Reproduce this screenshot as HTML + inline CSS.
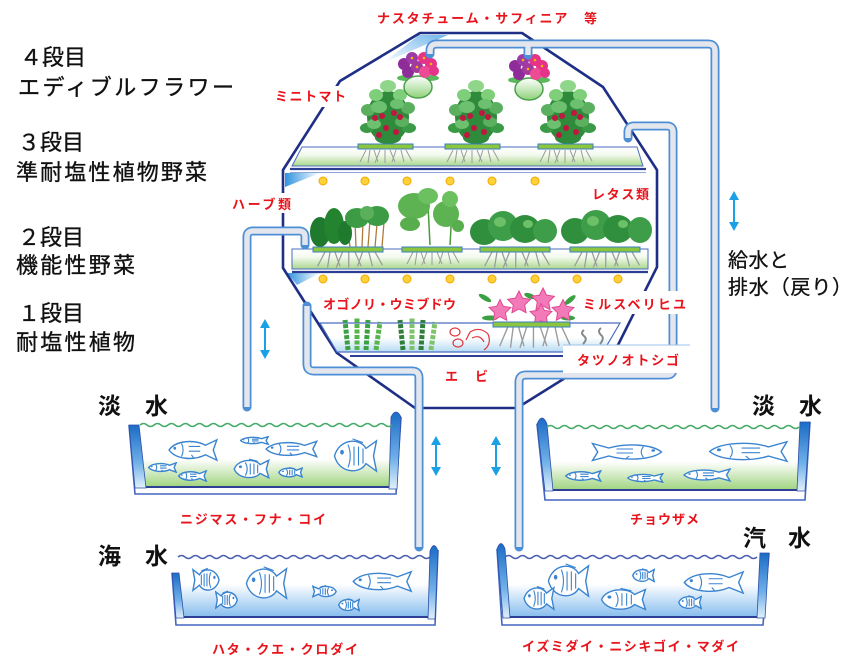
<!DOCTYPE html>
<html><head><meta charset="utf-8">
<style>
html,body{margin:0;padding:0;background:#fff;}
svg{display:block;}
.jp{font-family:"Liberation Sans","Noto Sans CJK JP",sans-serif;}
.blk{fill:#111;font-size:22px;stroke:#111;stroke-width:0.35px;}
.rd{fill:#e8131b;font-size:13px;font-weight:bold;}
.tk{fill:#111;font-size:23px;font-weight:bold;}
</style></head><body>
<svg width="868" height="670" viewBox="0 0 868 670" xmlns="http://www.w3.org/2000/svg" class="jp">
<defs>
 <linearGradient id="gGreen" x1="0" y1="0" x2="0" y2="1"><stop offset="0" stop-color="#ffffff"/><stop offset="0.4" stop-color="#f4faef"/><stop offset="1" stop-color="#a9d78c"/></linearGradient>
 <linearGradient id="gLB" x1="0" y1="0" x2="0" y2="1"><stop offset="0" stop-color="#ffffff"/><stop offset="0.5" stop-color="#ffffff"/><stop offset="1" stop-color="#b7dbf4"/></linearGradient>
 <linearGradient id="tankG" x1="0" y1="0" x2="0" y2="1"><stop offset="0" stop-color="#ffffff"/><stop offset="0.55" stop-color="#ffffff"/><stop offset="1" stop-color="#9fd47f"/></linearGradient>
 <linearGradient id="tankB" x1="0" y1="0" x2="0" y2="1"><stop offset="0" stop-color="#ffffff"/><stop offset="0.45" stop-color="#ffffff"/><stop offset="1" stop-color="#86bdee"/></linearGradient>
 <linearGradient id="wall" x1="0" y1="0" x2="0" y2="1"><stop offset="0" stop-color="#1b6bc6"/><stop offset="0.6" stop-color="#6fb0e8"/><stop offset="1" stop-color="#e2f0fb"/></linearGradient>
 <linearGradient id="gBall" x1="0" y1="0" x2="0" y2="1"><stop offset="0" stop-color="#ffffff"/><stop offset="1" stop-color="#8fd27a"/></linearGradient>
 <linearGradient id="gLight" x1="0" y1="0" x2="1" y2="0"><stop offset="0" stop-color="#2f93de"/><stop offset="1" stop-color="#ffffff"/></linearGradient>
 <linearGradient id="gRoof" x1="1" y1="0" x2="0" y2="1"><stop offset="0" stop-color="#6fb5ea"/><stop offset="1" stop-color="#ffffff"/></linearGradient>

 <symbol id="fishL" viewBox="0 0 100 40" preserveAspectRatio="none">
  <path d="M2,20 C15,4 50,2 72,12 L94,3 L87,20 L94,37 L72,28 C50,38 15,36 2,20 Z" fill="#fff" stroke="#3a84d0" stroke-width="1.4" vector-effect="non-scaling-stroke"/>
  <circle cx="13" cy="17" r="2.5" fill="#3a84d0"/>
  <path d="M26,9 Q32,20 26,31 M40,14 L62,14 M40,22 L62,22 M45,28 L50,34" fill="none" stroke="#3a84d0" stroke-width="1.1" vector-effect="non-scaling-stroke"/>
 </symbol>
 <symbol id="fishR" viewBox="0 0 100 40" preserveAspectRatio="none">
  <g transform="translate(100,0) scale(-1,1)">
  <path d="M2,20 C15,4 50,2 72,12 L94,3 L87,20 L94,37 L72,28 C50,38 15,36 2,20 Z" fill="#fff" stroke="#3a84d0" stroke-width="1.4" vector-effect="non-scaling-stroke"/>
  <circle cx="13" cy="17" r="2.5" fill="#3a84d0"/>
  <path d="M26,9 Q32,20 26,31 M40,14 L62,14 M40,22 L62,22 M45,28 L50,34" fill="none" stroke="#3a84d0" stroke-width="1.1" vector-effect="non-scaling-stroke"/>
  </g>
 </symbol>
 <symbol id="roundL" viewBox="0 0 60 40" preserveAspectRatio="none">
  <path d="M2,20 C8,2 35,0 44,12 L58,4 L54,20 L58,36 L44,28 C35,40 8,38 2,20 Z" fill="#fff" stroke="#3a84d0" stroke-width="1.4" vector-effect="non-scaling-stroke"/>
  <circle cx="12" cy="16" r="2.5" fill="#3a84d0"/>
  <path d="M20,8 Q26,20 20,32 M28,10 L28,30 M34,10 L34,30 M40,12 L40,28 M26,2 L40,6" fill="none" stroke="#3a84d0" stroke-width="1.1" vector-effect="non-scaling-stroke"/>
 </symbol>
 <symbol id="roundR" viewBox="0 0 60 40" preserveAspectRatio="none">
  <g transform="translate(60,0) scale(-1,1)">
  <path d="M2,20 C8,2 35,0 44,12 L58,4 L54,20 L58,36 L44,28 C35,40 8,38 2,20 Z" fill="#fff" stroke="#3a84d0" stroke-width="1.4" vector-effect="non-scaling-stroke"/>
  <circle cx="12" cy="16" r="2.5" fill="#3a84d0"/>
  <path d="M20,8 Q26,20 20,32 M28,10 L28,30 M34,10 L34,30 M40,12 L40,28 M26,2 L40,6" fill="none" stroke="#3a84d0" stroke-width="1.1" vector-effect="non-scaling-stroke"/>
  </g>
 </symbol>
 <g id="roots"><path d="M8,0 l-6,12 M12,0 l-2,13 M16,0 l4,12 M22,0 l-5,13 M27,0 l0,13 M32,0 l5,12 M38,0 l-4,12 M43,0 l3,12 M48,0 l6,11" stroke="#9b9b9b" stroke-width="1" fill="none"/></g>
 <g id="tomato">
  <ellipse cx="26" cy="37" rx="21" ry="26" fill="#2f8a3c"/>
  <ellipse cx="6" cy="30" rx="7" ry="6" fill="#5bb060"/>
  <ellipse cx="46" cy="28" rx="7" ry="6" fill="#5bb060"/>
  <ellipse cx="5" cy="48" rx="7" ry="5" fill="#3a9a46"/>
  <ellipse cx="47" cy="48" rx="7" ry="5" fill="#3a9a46"/>
  <ellipse cx="14" cy="15" rx="7" ry="6" fill="#7fcf7a"/>
  <ellipse cx="38" cy="15" rx="7" ry="6" fill="#7fcf7a"/>
  <ellipse cx="26" cy="6" rx="8" ry="6" fill="#8fd68a"/>
  <ellipse cx="17" cy="27" rx="8" ry="6" fill="#6cc070"/>
  <ellipse cx="35" cy="24" rx="7" ry="5" fill="#6cc070"/>
  <ellipse cx="12" cy="44" rx="7" ry="5" fill="#6cc070"/>
  <ellipse cx="40" cy="42" rx="7" ry="5" fill="#5bb060"/>
  <ellipse cx="26" cy="58" rx="13" ry="6" fill="#2f8a3c"/>
  <circle cx="20" cy="36" r="3" fill="#c0163f"/><circle cx="32" cy="33" r="3" fill="#c0163f"/>
  <circle cx="13" cy="38" r="3" fill="#c0163f"/><circle cx="38" cy="37" r="3" fill="#c0163f"/>
  <circle cx="24" cy="48" r="3" fill="#c0163f"/><circle cx="34" cy="52" r="3" fill="#c0163f"/>
  <circle cx="17" cy="55" r="3" fill="#c0163f"/>
 </g>
 <g id="basket">
  <ellipse cx="10" cy="28" rx="9" ry="3" fill="#5cb85c"/>
  <ellipse cx="34" cy="28" rx="9" ry="3" fill="#5cb85c"/>
  <ellipse cx="22" cy="37" rx="14" ry="11" fill="url(#gBall)" stroke="#4aa04a" stroke-width="1.5"/>
  <circle cx="8" cy="14" r="6" fill="#8e2c9a"/><circle cx="16" cy="8" r="6" fill="#9c3aa8"/>
  <circle cx="12" cy="22" r="6" fill="#8e2c9a"/><circle cx="21" cy="17" r="6" fill="#a33aa0"/>
  <circle cx="28" cy="8" r="6" fill="#e6338a"/><circle cx="35" cy="14" r="6" fill="#e6338a"/>
  <circle cx="29" cy="22" r="6" fill="#ee4b95"/><circle cx="38" cy="21" r="5" fill="#e6338a"/>
  <circle cx="16" cy="8" r="1.3" fill="#f5b400"/><circle cx="28" cy="8" r="1.3" fill="#f5b400"/>
  <circle cx="21" cy="17" r="1.3" fill="#f5b400"/><circle cx="35" cy="14" r="1.3" fill="#f5b400"/>
 </g>
 <polygon id="star" points="0,-10 2.94,-4.05 9.51,-3.09 4.76,1.55 5.88,8.09 0,5 -5.88,8.09 -4.76,1.55 -9.51,-3.09 -2.94,-4.05" fill="#f27ab8" stroke="#e0448f" stroke-width="0.8"/>
</defs>

<!-- roof light -->
<polygon points="419,35 448,35 383,63" fill="url(#gRoof)"/>
<polygon points="285,173 320,173 285,187" fill="url(#gLight)"/>
<polygon points="287,273 320,273 297,285" fill="url(#gLight)"/>

<!-- housing -->
<path d="M420,33 L522,33 L603,87 L657,170 L657,267 L618,345 L517,408 L415,408 L337,353 L283,268 L283,170 L340,81 Z" fill="none" stroke="#1f2f86" stroke-width="2.6" stroke-linejoin="round"/>

<!-- shelf 3 -->
<polygon points="302,147 637,147 643,166 292,166" fill="url(#gGreen)" stroke="#4a6cc0" stroke-width="1"/>
<line x1="290" y1="169" x2="646" y2="169" stroke="#2c3d94" stroke-width="2.2"/>
<line x1="290" y1="172.5" x2="646" y2="172.5" stroke="#8ea3d8" stroke-width="1"/>
<!-- shelf 2 -->
<rect x="292" y="249" width="356" height="20" fill="url(#gGreen)" stroke="#4a6cc0" stroke-width="1"/>
<line x1="292" y1="272" x2="648" y2="272" stroke="#2c3d94" stroke-width="2.2"/>
<!-- shelf 1 -->
<polygon points="320,323 620,323 603,352 337,352" fill="url(#gLB)" stroke="#4a6cc0" stroke-width="1.2"/>
<line x1="350" y1="356" x2="592" y2="356" stroke="#2c3d94" stroke-width="2"/>

<!-- lamps -->
<g fill="#ffd23a" stroke="#f0a800" stroke-width="1">
<circle cx="323" cy="181" r="4"/><circle cx="365" cy="181" r="4"/><circle cx="407" cy="181" r="4"/><circle cx="450" cy="181" r="4"/><circle cx="492" cy="181" r="4"/><circle cx="535" cy="181" r="4"/>
<circle cx="323" cy="279" r="4"/><circle cx="365" cy="279" r="4"/><circle cx="407" cy="279" r="4"/><circle cx="450" cy="279" r="4"/><circle cx="492" cy="279" r="4"/><circle cx="535" cy="279" r="4"/><circle cx="577" cy="279" r="4"/><circle cx="618" cy="279" r="4"/>
</g>

<!-- shelf 3 plants -->
<use href="#roots" transform="translate(358,150)"/>
<use href="#roots" transform="translate(445,150)"/>
<use href="#roots" transform="translate(538,150)"/>
<use href="#tomato" transform="translate(362,80)"/>
<use href="#tomato" transform="translate(450,80)"/>
<use href="#tomato" transform="translate(542,80)"/>
<g fill="#8cc63f" stroke="#3a7fc0" stroke-width="1">
<rect x="358" y="144" width="55" height="5"/><rect x="445" y="144" width="55" height="5"/><rect x="538" y="144" width="55" height="5"/>
</g>
<use href="#basket" transform="translate(396,50)"/>
<use href="#basket" transform="translate(507,52)"/>

<!-- shelf 2 plants -->
<use href="#roots" transform="translate(315,252) scale(1.25,1.2)"/>
<use href="#roots" transform="translate(405,252) scale(1.0,1.0)"/>
<use href="#roots" transform="translate(482,252) scale(1.25,1.2)"/>
<use href="#roots" transform="translate(572,252) scale(1.25,1.2)"/>
<g>
 <path d="M350,247 L347,222 M356,247 L355,220 M362,247 L363,222 M368,247 L370,220 M375,247 L377,224 M382,247 L384,222" stroke="#b07a3a" stroke-width="1.3"/>
 <ellipse cx="320" cy="232" rx="10" ry="15" fill="#1f7a2e"/>
 <ellipse cx="334" cy="226" rx="10" ry="18" fill="#23832f"/>
 <ellipse cx="345" cy="233" rx="7" ry="12" fill="#1f7a2e"/>
 <ellipse cx="357" cy="218" rx="12" ry="10" fill="#3d9b46"/>
 <ellipse cx="377" cy="216" rx="12" ry="10" fill="#3d9b46"/>
 <ellipse cx="367" cy="213" rx="7" ry="7" fill="#5ab05a"/>
 <path d="M430,245 L428,205 M450,245 L452,210" stroke="#4a9a3a" stroke-width="1.5"/>
 <ellipse cx="414" cy="206" rx="16" ry="13" fill="#5db352"/>
 <ellipse cx="428" cy="196" rx="10" ry="8" fill="#6cc060"/>
 <ellipse cx="410" cy="224" rx="10" ry="7" fill="#58ad4d"/>
 <ellipse cx="446" cy="214" rx="13" ry="13" fill="#5db352"/>
 <ellipse cx="450" cy="199" rx="8" ry="8" fill="#6cc060"/>
 <ellipse cx="458" cy="226" rx="6" ry="6" fill="#58ad4d"/>
 <ellipse cx="484" cy="232" rx="14" ry="13" fill="#2f8f3c"/>
 <ellipse cx="503" cy="226" rx="15" ry="15" fill="#3e9d48"/>
 <ellipse cx="525" cy="229" rx="15" ry="14" fill="#2f8f3c"/>
 <ellipse cx="545" cy="231" rx="12" ry="12" fill="#3e9d48"/>
 <ellipse cx="575" cy="231" rx="14" ry="13" fill="#2f8f3c"/>
 <ellipse cx="596" cy="225" rx="15" ry="15" fill="#3e9d48"/>
 <ellipse cx="618" cy="229" rx="15" ry="14" fill="#2f8f3c"/>
 <ellipse cx="640" cy="230" rx="12" ry="13" fill="#3e9d48"/>
 <ellipse cx="500" cy="222" rx="6" ry="5" fill="#6cc067"/>
 <ellipse cx="593" cy="221" rx="6" ry="5" fill="#6cc067"/>
 <ellipse cx="623" cy="224" rx="5" ry="4" fill="#6cc067"/>
 <ellipse cx="528" cy="224" rx="5" ry="4" fill="#6cc067"/>
</g>
<g fill="#8cc63f" stroke="#3a7fc0" stroke-width="1">
<rect x="313" y="247" width="70" height="5"/><rect x="402" y="247" width="60" height="5"/><rect x="480" y="247" width="70" height="5"/><rect x="570" y="247" width="70" height="5"/>
</g>

<!-- shelf 1 contents -->
<g fill="none" stroke-width="5" stroke-dasharray="4 1.5">
 <path d="M348,350 L345,320" stroke="#3aa043"/><path d="M357,350 L357,318" stroke="#56b44a"/>
 <path d="M366,350 L368,320" stroke="#3aa043"/><path d="M376,350 L380,322" stroke="#56b44a"/>
 <path d="M403,350 L400,320" stroke="#2f7f3a"/><path d="M412,350 L412,318" stroke="#7cc36a"/>
 <path d="M421,350 L423,320" stroke="#2f7f3a"/><path d="M431,350 L435,322" stroke="#7cc36a"/>
</g>
<g fill="none" stroke="#e0363e" stroke-width="1.2">
 <ellipse cx="455" cy="332" rx="5" ry="4"/><ellipse cx="458" cy="343" rx="5" ry="4"/>
 <path d="M470,332 Q480,326 488,334 Q492,344 484,350 M472,338 Q480,334 484,342 M470,332 L466,340"/>
</g>
<use href="#roots" transform="translate(497,327) scale(1.35,1.6)"/>
<g fill="#3aa043">
 <ellipse cx="485" cy="298" rx="7" ry="2.5" transform="rotate(30 485 298)"/>
 <ellipse cx="490" cy="318" rx="8" ry="2.5"/>
 <ellipse cx="570" cy="300" rx="7" ry="2.5" transform="rotate(-40 570 300)"/>
 <ellipse cx="568" cy="318" rx="7" ry="2.5"/>
 <ellipse cx="530" cy="296" rx="6" ry="2.5" transform="rotate(20 530 296)"/>
</g>
<use href="#star" transform="translate(500,311) scale(1.15)"/>
<use href="#star" transform="translate(519,303) scale(1.2)"/>
<use href="#star" transform="translate(543,300) scale(1.2)"/>
<use href="#star" transform="translate(541,315) scale(1.15)"/>
<use href="#star" transform="translate(563,311) scale(1.15)"/>
<rect x="493" y="322" width="77" height="5" fill="#8cc63f" stroke="#3a7fc0" stroke-width="1"/>
<g fill="none" stroke="#888" stroke-width="2">
 <path d="M584,330 q-4,3 0,6 q4,3 -1,8"/><path d="M601,328 q-4,3 0,7 q4,3 -1,9"/>
</g>

<!-- pipes -->
<g fill="none" stroke-linejoin="round">
 <g stroke="#4d8fd6" stroke-width="9" stroke-linecap="round">
  <path d="M430,54 V51 Q430,44 437,44 H708 Q715,44 715,51 V408"/>
  <path d="M528,44 V55"/>
  <path d="M628,138 V132 Q628,126 634,126 H667 Q673,126 673,132 V369 Q673,375 667,375 H526 Q519,375 519,382 V547"/>
  <path d="M305,245 V237 Q305,231 299,231 H253 Q247,231 247,237 V407"/>
  <path d="M307,306 V364 Q307,371 314,371 H412 Q419,371 419,378 V547"/>
 </g>
 <g stroke="#e3e7ed" stroke-width="5.5" stroke-linecap="butt">
  <path d="M430,54 V51 Q430,44 437,44 H708 Q715,44 715,51 V408"/>
  <path d="M528,44 V55"/>
  <path d="M628,138 V132 Q628,126 634,126 H667 Q673,126 673,132 V369 Q673,375 667,375 H526 Q519,375 519,382 V547"/>
  <path d="M305,245 V237 Q305,231 299,231 H253 Q247,231 247,237 V407"/>
  <path d="M307,306 V364 Q307,371 314,371 H412 Q419,371 419,378 V547"/>
 </g>
</g>

<!-- arrows -->
<g stroke="#1aa0e6" stroke-width="2" fill="#1aa0e6">
 <line x1="265" y1="326" x2="265" y2="352"/><polygon points="265,319 260,328 270,328" stroke="none"/><polygon points="265,359 260,350 270,350" stroke="none"/>
 <line x1="436" y1="443" x2="436" y2="469"/><polygon points="436,436 431,445 441,445" stroke="none"/><polygon points="436,476 431,467 441,467" stroke="none"/>
 <line x1="496" y1="443" x2="496" y2="469"/><polygon points="496,436 491,445 501,445" stroke="none"/><polygon points="496,476 491,467 501,467" stroke="none"/>
 <line x1="734" y1="198" x2="734" y2="224"/><polygon points="734,191 729,200 739,200" stroke="none"/><polygon points="734,231 729,222 739,222" stroke="none"/>
</g>

<!-- Tank 1 freshwater left -->
<polygon points="140,425 146,487 390,487 393,425" fill="url(#tankG)"/>
<path d="M129,425 L135,494 L396,494 L401,417" fill="none" stroke="#4566c0" stroke-width="1.6"/>
<line x1="146" y1="487" x2="390" y2="487" stroke="#2e3f96" stroke-width="2"/>
<polygon points="129,425 139,425 146,488 135,488" fill="url(#wall)" stroke="#2e4fa8" stroke-width="0.8"/>
<path d="M391,417 Q396,407 401,417 L397,489 L389,489 Z" fill="url(#wall)" stroke="#2e4fa8" stroke-width="0.8"/>
<path d="M140,425 q3.5,-3 7,0 t7,0 t7,0 t7,0 t7,0 t7,0 t7,0 t7,0 t7,0 t7,0 t7,0 t7,0 t7,0 t7,0 t7,0 t7,0 t7,0 t7,0 t7,0 t7,0 t7,0 t7,0 t7,0 t7,0 t7,0 t7,0 t7,0 t7,0 t7,0 t7,0 t7,0 t7,0 t7,0 t7,0 t7,0 t7,0" fill="none" stroke="#44aa66" stroke-width="1.5"/>
<use href="#fishL" x="168" y="438" width="52" height="24"/>
<use href="#fishL" x="240" y="436" width="30" height="9"/>
<use href="#fishL" x="265" y="440" width="55" height="18"/>
<use href="#roundL" x="333" y="437" width="45" height="38"/>
<use href="#fishL" x="148" y="462" width="30" height="11"/>
<use href="#fishL" x="178" y="470" width="30" height="12"/>
<use href="#roundL" x="233" y="458" width="37" height="22"/>
<use href="#roundL" x="278" y="467" width="25" height="11"/>

<!-- Tank 2 sturgeon -->
<polygon points="547,427 553,490 798,490 800,427" fill="url(#tankG)"/>
<path d="M537,424 L545,500 L805,500 L810,422" fill="none" stroke="#4566c0" stroke-width="1.6"/>
<line x1="553" y1="490" x2="798" y2="490" stroke="#2e3f96" stroke-width="2"/>
<path d="M537,424 Q542,412 547,424 L553,491 L545,491 Z" fill="url(#wall)" stroke="#2e4fa8" stroke-width="0.8"/>
<polygon points="800,422 810,422 805,491 797,491" fill="url(#wall)" stroke="#2e4fa8" stroke-width="0.8"/>
<path d="M547,427 q3.5,-3 7,0 t7,0 t7,0 t7,0 t7,0 t7,0 t7,0 t7,0 t7,0 t7,0 t7,0 t7,0 t7,0 t7,0 t7,0 t7,0 t7,0 t7,0 t7,0 t7,0 t7,0 t7,0 t7,0 t7,0 t7,0 t7,0 t7,0 t7,0 t7,0 t7,0 t7,0 t7,0 t7,0 t7,0 t7,0 t7,0" fill="none" stroke="#44aa66" stroke-width="1.5"/>
<use href="#fishR" x="588" y="442" width="75" height="20"/>
<use href="#fishL" x="708" y="440" width="84" height="23"/>
<use href="#fishL" x="565" y="470" width="38" height="12"/>
<use href="#fishL" x="627" y="473" width="38" height="10"/>
<use href="#fishL" x="683" y="468" width="50" height="14"/>

<!-- Tank 3 seawater -->
<polygon points="178,557 183,617 430,617 431,557" fill="url(#tankB)"/>
<path d="M172,573 L176,625 L435,625 L438,550" fill="none" stroke="#4566c0" stroke-width="1.6"/>
<line x1="183" y1="617" x2="430" y2="617" stroke="#2e3f96" stroke-width="2"/>
<polygon points="172,573 179,573 184,618 176,618" fill="url(#wall)" stroke="#2e4fa8" stroke-width="0.8"/>
<path d="M430,551 Q434,540 438,551 L435,619 L428,619 Z" fill="url(#wall)" stroke="#2e4fa8" stroke-width="0.8"/>
<path d="M178,557 q3.5,-3 7,0 t7,0 t7,0 t7,0 t7,0 t7,0 t7,0 t7,0 t7,0 t7,0 t7,0 t7,0 t7,0 t7,0 t7,0 t7,0 t7,0 t7,0 t7,0 t7,0 t7,0 t7,0 t7,0 t7,0 t7,0 t7,0 t7,0 t7,0 t7,0 t7,0 t7,0 t7,0 t7,0 t7,0 t7,0 t7,0" fill="none" stroke="#4a5fb0" stroke-width="1.5"/>
<use href="#roundR" x="192" y="567" width="28" height="26"/>
<use href="#roundR" x="215" y="590" width="23" height="20"/>
<use href="#roundL" x="245" y="565" width="43" height="37"/>
<use href="#roundR" x="312" y="585" width="25" height="13"/>
<use href="#roundL" x="338" y="598" width="22" height="14"/>
<use href="#fishL" x="352" y="570" width="63" height="23"/>

<!-- Tank 4 brackish -->
<polygon points="505,557 510,617 758,617 761,557" fill="url(#tankB)"/>
<path d="M497,549 L502,625 L763,625 L769,553" fill="none" stroke="#4566c0" stroke-width="1.6"/>
<line x1="510" y1="617" x2="758" y2="617" stroke="#2e3f96" stroke-width="2"/>
<path d="M497,549 Q501,538 505,549 L510,618 L503,618 Z" fill="url(#wall)" stroke="#2e4fa8" stroke-width="0.8"/>
<polygon points="760,553 769,553 765,618 757,618" fill="url(#wall)" stroke="#2e4fa8" stroke-width="0.8"/>
<path d="M505,557 q3.5,-3 7,0 t7,0 t7,0 t7,0 t7,0 t7,0 t7,0 t7,0 t7,0 t7,0 t7,0 t7,0 t7,0 t7,0 t7,0 t7,0 t7,0 t7,0 t7,0 t7,0 t7,0 t7,0 t7,0 t7,0 t7,0 t7,0 t7,0 t7,0 t7,0 t7,0 t7,0 t7,0 t7,0 t7,0 t7,0 t7,0" fill="none" stroke="#4a5fb0" stroke-width="1.5"/>
<use href="#roundL" x="547" y="562" width="43" height="38"/>
<use href="#roundL" x="523" y="585" width="32" height="27"/>
<use href="#roundL" x="600" y="587" width="47" height="25"/>
<use href="#roundL" x="632" y="568" width="23" height="15"/>
<use href="#fishL" x="683" y="570" width="64" height="25"/>
<use href="#roundL" x="678" y="595" width="24" height="15"/>

<!-- label backgrounds -->
<g fill="#fff">
 <rect x="271" y="86" width="80" height="21"/>
 <rect x="228" y="193" width="66" height="20"/>
 <rect x="586" y="183" width="68" height="22"/>
 <rect x="578" y="291" width="112" height="23"/>
 <rect x="563" y="345" width="127" height="28"/>
 <rect x="95" y="540" width="76" height="32"/>
 <rect x="740" y="522" width="72" height="30"/>
 <rect x="748" y="390" width="75" height="31"/>
</g>
<line x1="563" y1="345" x2="690" y2="345" stroke="#9cc3ea" stroke-width="1"/>

<!-- black texts -->
<g class="blk">
 <text x="20" y="65" textLength="66" lengthAdjust="spacing">４段目</text>
 <text x="18" y="95" textLength="216" lengthAdjust="spacing">エディブルフラワー</text>
 <text x="18" y="150" textLength="66" lengthAdjust="spacing">３段目</text>
 <text x="16" y="180" textLength="191" lengthAdjust="spacing">準耐塩性植物野菜</text>
 <text x="18" y="245" textLength="66" lengthAdjust="spacing">２段目</text>
 <text x="16" y="273" textLength="119" lengthAdjust="spacing">機能性野菜</text>
 <text x="18" y="321" textLength="66" lengthAdjust="spacing">１段目</text>
 <text x="16" y="350" textLength="119" lengthAdjust="spacing">耐塩性植物</text>
</g>
<g fill="#111" stroke="#111" stroke-width="0.3" style="font-size:20px">
 <text x="728" y="267" textLength="61" lengthAdjust="spacing">給水と</text>
 <text x="728" y="294" textLength="124" lengthAdjust="spacing">排水（戻り）</text>
</g>
<g class="tk">
 <text x="98" y="414" textLength="70" lengthAdjust="spacing">淡　水</text>
 <text x="752" y="414" textLength="70" lengthAdjust="spacing">淡　水</text>
 <text x="98" y="564" textLength="70" lengthAdjust="spacing">海　水</text>
 <text x="743" y="546" textLength="68" lengthAdjust="spacing">汽　水</text>
</g>

<!-- red labels -->
<g class="rd">
 <text x="377" y="23" textLength="220" lengthAdjust="spacing">ナスタチューム・サフィニア　等</text>
 <text x="275" y="101" textLength="71" lengthAdjust="spacing">ミニトマト</text>
 <text x="232" y="209" textLength="59" lengthAdjust="spacing">ハーブ類</text>
 <text x="592" y="199" textLength="57" lengthAdjust="spacing">レタス類</text>
 <text x="323" y="309" textLength="133" lengthAdjust="spacing">オゴノリ・ウミブドウ</text>
 <text x="583" y="309" textLength="103" lengthAdjust="spacing">ミルスベリヒユ</text>
 <text x="577" y="365" textLength="102" lengthAdjust="spacing">タツノオトシゴ</text>
 <text x="445" y="381" textLength="43" lengthAdjust="spacing">エ　ビ</text>
 <text x="180" y="524" textLength="146" lengthAdjust="spacing">ニジマス・フナ・コイ</text>
 <text x="630" y="524" textLength="69" lengthAdjust="spacing">チョウザメ</text>
 <text x="212" y="654" textLength="146" lengthAdjust="spacing">ハタ・クエ・クロダイ</text>
 <text x="522" y="651" textLength="217" lengthAdjust="spacing">イズミダイ・ニシキゴイ・マダイ</text>
</g>
</svg>
</body></html>
